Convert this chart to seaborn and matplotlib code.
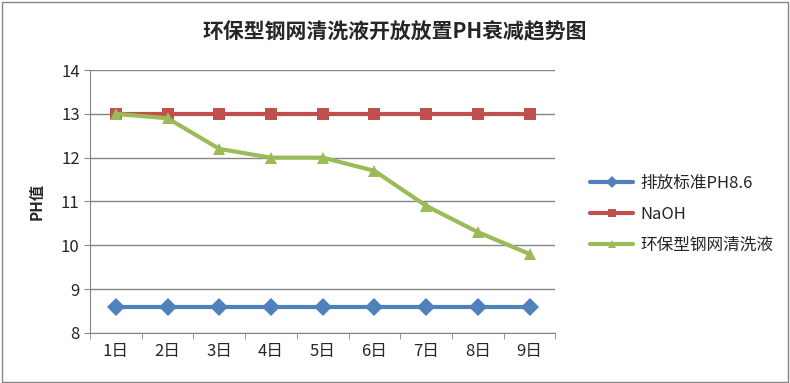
import pandas as pd
import matplotlib
matplotlib.use('Agg')
import matplotlib.pyplot as plt
import seaborn as sns

days = ['1日', '2日', '3日', '4日', '5日', '6日', '7日', '8日', '9日']
standard = [8.6, 8.6, 8.6, 8.6, 8.6, 8.6, 8.6, 8.6, 8.6]
naoh = [13, 13, 13, 13, 13, 13, 13, 13, 13]
cleaner = [13.0, 12.9, 12.2, 12.0, 12.0, 11.7, 10.9, 10.3, 9.8]
names = ['排放标准PH8.6', 'NaOH', '环保型钢网清洗液']

sns.set_style('white')
plt.rcParams['font.family'] = ['Noto Sans CJK SC', 'DejaVu Sans']

df = pd.DataFrame({
    'day': days * 3,
    'ph': standard + naoh + cleaner,
    'series': [names[0]] * 9 + [names[1]] * 9 + [names[2]] * 9,
})

palette = {names[0]: '#4F81BD', names[1]: '#C0504D', names[2]: '#9BBB59'}
markers = {names[0]: 'D', names[1]: 's', names[2]: '^'}

fig = plt.figure(figsize=(7.9, 3.83), dpi=100)
ax = fig.add_axes([0.114, 0.131, 0.589, 0.686])

sns.lineplot(data=df, x='day', y='ph', hue='series', style='series',
             palette=palette, markers=markers, dashes=False, linewidth=3,
             markersize=9, markeredgewidth=0, ax=ax, sort=False)

ax.set_xlim(-0.5, 8.5)
ax.set_ylim(8, 14)
ax.set_yticks(range(8, 15))
ax.set_xlabel('')
ax.set_ylabel('PH值', fontsize=11, fontweight='bold', labelpad=12)
ax.yaxis.grid(True, color='#868686', linewidth=1)
ax.set_axisbelow(True)
for s in ['top', 'right']:
    ax.spines[s].set_visible(False)
for s in ['left', 'bottom']:
    ax.spines[s].set_color('#868686')
ax.tick_params(axis='both', labelsize=12, length=4, color='#868686',
               direction='out', left=True, bottom=False)
ax.set_xticks([i - 0.5 for i in range(10)], minor=True)
ax.tick_params(axis='x', which='minor', length=4, color='#868686', bottom=True)

handles, labels = ax.get_legend_handles_labels()
ax.legend_.remove()
fig.legend(handles, labels, loc='center left', bbox_to_anchor=(0.728, 0.44),
           frameon=False, fontsize=12, handlelength=2.6, markerscale=0.7,
           labelspacing=0.85, handletextpad=0.4)

fig.suptitle('环保型钢网清洗液开放放置PH衰减趋势图', fontsize=15,
             fontweight='bold', y=0.945)

fig.patches.append(plt.Rectangle((0.002, 0.003), 0.995, 0.993, transform=fig.transFigure,
                                 fill=False, edgecolor='#868686', linewidth=1))

fig.savefig('out.png', dpi=100)
